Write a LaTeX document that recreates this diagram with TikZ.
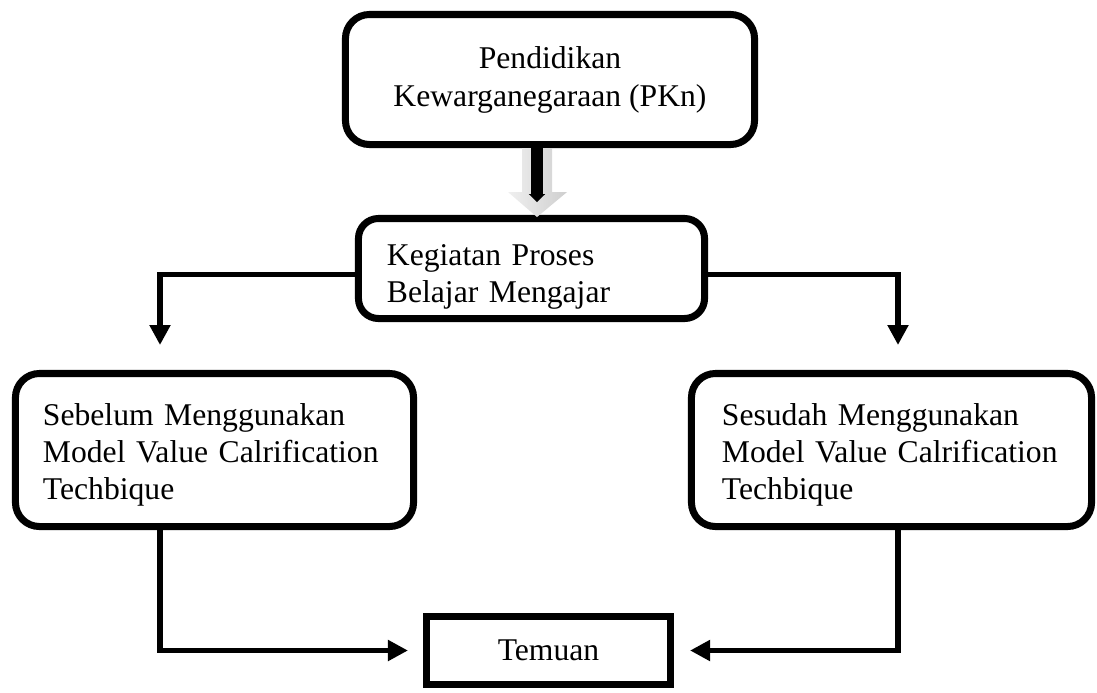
\documentclass[tikz,border=0pt]{standalone}
\usepackage{fontspec}
\setmainfont{Liberation Serif}
\usepackage{tikz}
\usetikzlibrary{arrows.meta,calc,positioning}

\begin{document}
\begin{tikzpicture}[x=0.025cm,y=-0.025cm,>=Stealth,
  kotak/.style={draw,line width=5pt,rounded corners=0.6cm,inner xsep=0pt,
    align=left,font=\fontsize{22.5pt}{26.3pt}\selectfont},
  conn/.style={line width=4.2pt,-{Triangle[length=0.5cm,width=0.5cm]}}]
  \useasboundingbox (0,0) rectangle (1097,692);

  % Kotak-kotak
  \node[kotak,align=center,font=\fontsize{22.5pt}{27pt}\selectfont,
    minimum width=10.225cm,minimum height=3.25cm] (pkn) at (550,79.5)
    {Pendidikan\\Kewarganegaraan (PKn)};
  \node[kotak,rounded corners=0.5cm,text height=26.8pt,text width=7.225cm,
    minimum width=8.65cm,minimum height=2.5cm] (kbm) at (531.5,268.5)
    {Kegiatan Proses\\Belajar Mengajar};
  \node[kotak,text height=22.6pt,text width=8.575cm,minimum width=9.95cm,minimum height=3.825cm] (sebelum) at (214.5,450)
    {Sebelum Menggunakan\\Model Value Calrification\\Techbique};
  \node[kotak,text height=22.6pt,text width=8.475cm,minimum width=10cm,minimum height=3.825cm] (sesudah) at (891.5,450)
    {Sesudah Menggunakan\\Model Value Calrification\\Techbique};
  \node[kotak,rounded corners=0pt,align=center,minimum width=6.1cm,minimum height=1.7cm] (temuan) at (548.5,650.5)
    {Temuan};

  % Panah blok
  \coordinate (blokA) at ([xshift=-0.325cm]pkn.south);
  \shade[left color=gray!12,right color=gray!38]
    ($(blokA)+(-15,0)$) -- ($(blokA)+(15,0)$) -- ($(blokA)+(15,44)$) -- ($(blokA)+(30,44)$)
    -- ($(blokA)+(0,69)$) -- ($(blokA)+(-29,44)$) -- ($(blokA)+(-15,44)$) -- cycle;
  \coordinate (blokB) at ($(blokA)+(0,54)$);
  \draw[line width=8.5pt,-{Triangle[length=0.2cm,width=0.4cm]}] (blokA) -- (blokB);

  % Titik ujung panah
  \coordinate (ujungL) at (160,345);
  \coordinate (ujungR) at (898,345);

  % Penghubung
  \draw[conn] ([yshift=-0.15cm]kbm.west) -| (ujungL);
  \draw[conn] ([yshift=-0.15cm]kbm.east) -| (ujungR);
  \draw[conn,shorten >=0.375cm] (sebelum.south -| ujungL) |- (temuan.west);
  \draw[conn,shorten >=0.4cm] (sesudah.south -| ujungR) |- (temuan.east);
\end{tikzpicture}
\end{document}
